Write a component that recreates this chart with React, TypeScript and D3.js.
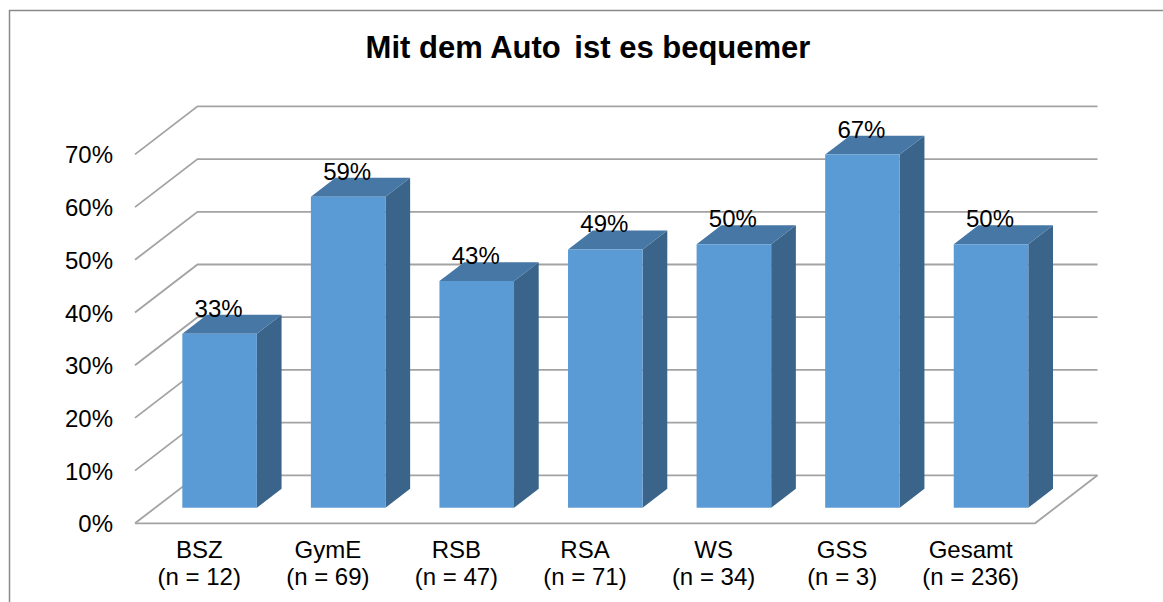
import React from "react";
import * as d3 from "d3";

const categories = ["BSZ", "GymE", "RSB", "RSA", "WS", "GSS", "Gesamt"];
const sampleSizes = ["(n = 12)", "(n = 69)", "(n = 47)", "(n = 71)", "(n = 34)", "(n = 3)", "(n = 236)"];
const values = [0.33, 0.59, 0.43, 0.49, 0.5, 0.67, 0.5];
const yTicks = [0, 0.1, 0.2, 0.3, 0.4, 0.5, 0.6, 0.7];
const titleParts = ["Mit dem Auto", "ist es bequemer"];

const W = 1163;
const H = 602;
const FONT = "Arial, 'Liberation Sans', sans-serif";

// 3D projection: depth vector
const DX = 62.5;
const DY = -48;
const FRONT_D = 0.325;
const BACK_D = 0.72;

export default function App() {
  const x = d3
    .scaleBand<string>()
    .domain(categories)
    .range([135, 1035])
    .paddingInner(0.42)
    .paddingOuter(0.21);
  const xCat = d3.scaleBand<string>().domain(categories).range([135, 1035]).padding(0);
  const y = d3.scaleLinear().domain([0, 0.7]).range([523.3, 154.4]);

  const px = (xv: number, d: number) => xv + d * DX;
  const py = (yv: number, d: number) => yv + d * DY;
  const pt = (xv: number, yv: number, d: number) => `${px(xv, d)},${py(yv, d)}`;

  const left = 135;
  const right = 1035;
  const pctFmt = d3.format(".0%");

  return (
    <svg
      width={W}
      height={H}
      style={{ position: "absolute", left: 0, top: 0, background: "#fff" }}
    >
      <rect x={9.5} y={10.5} width={1400} height={800} fill="#fff" stroke="#8a8a8a" strokeWidth={1.5} />
      <text
        x={588}
        y={57.5}
        textAnchor="middle"
        fontFamily={FONT}
        fontWeight="bold"
        fontSize={31}
        fill="#000"
      >
        <tspan>{titleParts[0]}</tspan>
        <tspan dx={5}>{" " + titleParts[1]}</tspan>
      </text>

      {/* gridlines: left wall diagonal + back wall horizontal */}
      <g stroke="#a3a3a3" strokeWidth={1.8} fill="none">
        {yTicks.map((t) => (
          <polyline
            key={t}
            points={`${pt(left, y(t), 0)} ${pt(left, y(t), 1)} ${pt(right, y(t), 1)}`}
          />
        ))}
        {/* floor front edge and right edge */}
        <polyline points={`${pt(left, y(0), 0)} ${pt(right, y(0), 0)} ${pt(right, y(0), 1)}`} />
      </g>

      {/* y-axis labels */}
      <g fontFamily={FONT} fontSize={24} fill="#000" textAnchor="end">
        {yTicks.map((t) => (
          <text key={t} x={113} y={y(t) + 9}>
            {pctFmt(t)}
          </text>
        ))}
      </g>

      {/* bars */}
      {categories.map((c, i) => {
        const x0 = x(c)!;
        const x1 = x0 + x.bandwidth();
        const yb = y(0);
        const yt = y(values[i]);
        const front = `${pt(x0, yb, FRONT_D)} ${pt(x1, yb, FRONT_D)} ${pt(x1, yt, FRONT_D)} ${pt(x0, yt, FRONT_D)}`;
        const side = `${pt(x1, yb, FRONT_D)} ${pt(x1, yb, BACK_D)} ${pt(x1, yt, BACK_D)} ${pt(x1, yt, FRONT_D)}`;
        const top = `${pt(x0, yt, FRONT_D)} ${pt(x1, yt, FRONT_D)} ${pt(x1, yt, BACK_D)} ${pt(x0, yt, BACK_D)}`;
        return (
          <g key={c}>
            <polygon points={side} fill="#3a6489" />
            <polygon points={top} fill="#4677a5" />
            <polygon points={front} fill="#5b9bd5" />
          </g>
        );
      })}

      {/* data labels */}
      <g fontFamily={FONT} fontSize={24} fill="#000" textAnchor="middle">
        {categories.map((c, i) => {
          const cx = px(x(c)! + x.bandwidth() / 2, FRONT_D) - 1;
          const yy = py(y(values[i]), FRONT_D) - 17;
          return (
            <text key={c} x={cx} y={yy}>
              {pctFmt(values[i])}
            </text>
          );
        })}
      </g>

      {/* category labels */}
      <g fontFamily={FONT} fontSize={24} fill="#000" textAnchor="middle">
        {categories.map((c, i) => {
          const cx = xCat(c)! + xCat.bandwidth() / 2;
          return (
            <text key={c} x={cx} y={558}>
              <tspan x={cx}>{c}</tspan>
              <tspan x={cx} y={584.5}>
                {sampleSizes[i]}
              </tspan>
            </text>
          );
        })}
      </g>
    </svg>
  );
}
